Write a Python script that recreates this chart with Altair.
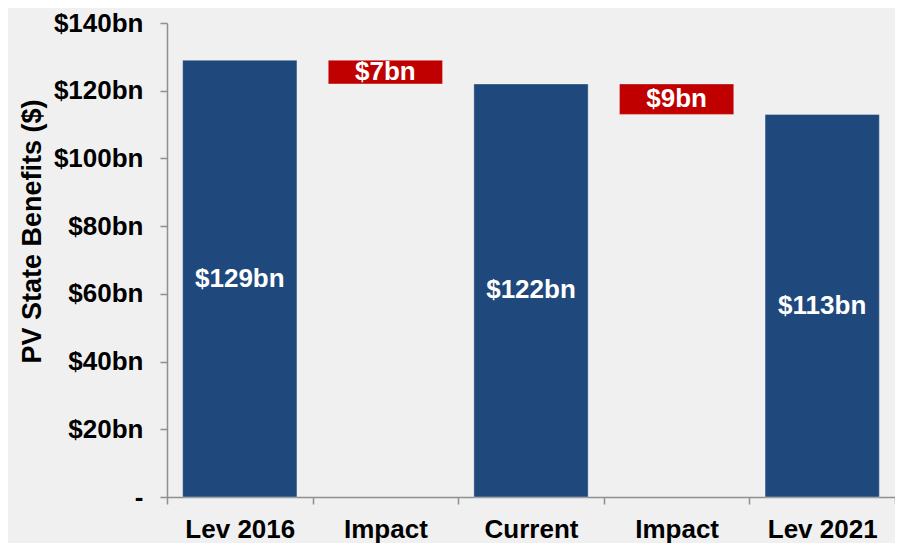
import json
import altair as alt
import pandas as pd

# ---- data ----
categories = ["Lev 2016", "Impact", "Current", "Impact", "Lev 2021"]
bar_bottom = [0, 122, 0, 113, 0]
bar_top = [129, 129, 122, 122, 113]
bar_kind = ["total", "change", "total", "change", "total"]
bar_label = ["$129bn", "$7bn", "$122bn", "$9bn", "$113bn"]
y_ticks = [0, 20, 40, 60, 80, 100, 120, 140]

df = pd.DataFrame({
    "idx": list(range(len(categories))),
    "bottom": bar_bottom,
    "top": bar_top,
    "kind": bar_kind,
    "label": bar_label,
})
df["mid"] = (df["bottom"] + df["top"]) / 2

FONT = "Liberation Sans"
AXIS_COLOR = "#8f8f8f"

label_expr = json.dumps(categories) + "[datum.value]"

x_enc = alt.X(
    "idx:O",
    scale=alt.Scale(paddingInner=0, paddingOuter=0),
    axis=alt.Axis(
        title=None,
        labelExpr=label_expr,
        labelAngle=0,
        labelFont=FONT,
        labelFontSize=26,
        labelFontWeight="bold",
        labelColor="#000000",
        labelPadding=12,
        tickBand="extent",
        tickSize=7,
        tickColor=AXIS_COLOR,
        tickWidth=1.5,
        domainColor=AXIS_COLOR,
        domainWidth=1.5,
    ),
)

bars = alt.Chart(df).mark_bar(width={"band": 0.785}, stroke="#ffffff", strokeOpacity=0.35, strokeWidth=1).encode(
    x=x_enc,
    y=alt.Y(
        "top:Q",
        scale=alt.Scale(domain=[0, 140], nice=False, zero=True),
        axis=alt.Axis(
            values=y_ticks,
            labelExpr="datum.value == 0 ? '-' : '$' + datum.value + 'bn'",
            title="PV State Benefits ($)",
            titleFont=FONT,
            titleFontSize=27,
            titleFontWeight="bold",
            titleColor="#000000",
            titleAngle=270,
            titleX=-121,
            titleY=208,
            titleAlign="center",
            titleBaseline="bottom",
            labelFont=FONT,
            labelFontSize=26,
            labelFontWeight="bold",
            labelColor="#000000",
            labelPadding=17,
            grid=False,
            tickSize=7,
            tickColor=AXIS_COLOR,
            tickWidth=1.5,
            domainColor=AXIS_COLOR,
            domainWidth=1.5,
        ),
    ),
    y2="bottom:Q",
    color=alt.Color(
        "kind:N",
        scale=alt.Scale(domain=["total", "change"], range=["#1F497D", "#C00000"]),
        legend=None,
    ),
)

texts = alt.Chart(df).mark_text(
    font=FONT, fontSize=26, fontWeight="bold", color="#ffffff", baseline="middle", align="center"
).encode(
    x=alt.X("idx:O"),
    y=alt.Y("mid:Q"),
    text="label:N",
)

chart = (
    alt.layer(bars, texts)
    .properties(
        width=728,
        height=474,
        padding={"left": 159, "top": 15, "right": 0, "bottom": 46},
        autosize=alt.AutoSizeParams(type="none"),
        background="#f0f0f0",
    )
    .configure_view(stroke=None)
)

chart.save("out.html", embed_options={"renderer": "svg", "actions": False})
